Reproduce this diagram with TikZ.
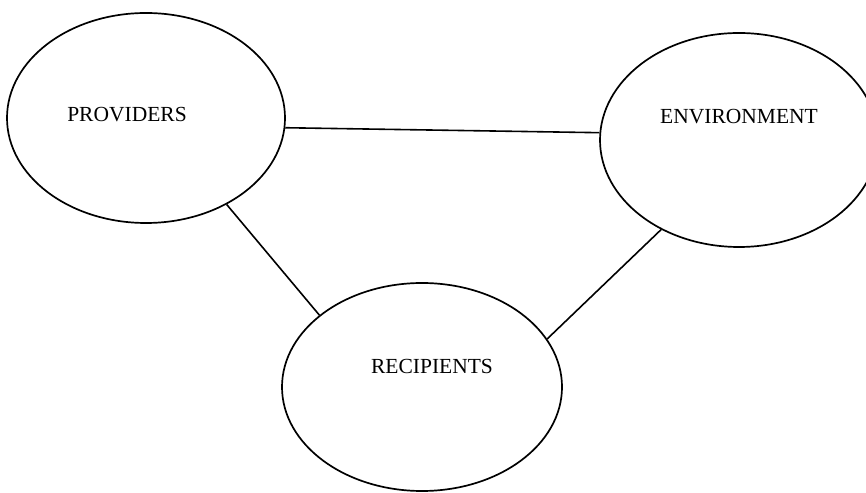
\documentclass[tikz,border=0pt]{standalone}
\usepackage{fontspec}
\setmainfont{Liberation Serif}
\usetikzlibrary{shapes.geometric}
\tikzset{
  oval/.style={draw, ellipse, line width=1.7pt, inner sep=0pt},
  lbl/.style={font=\fontsize{21.5}{26}\selectfont, inner sep=0pt},
  link/.style={line width=1.6pt}
}
\begin{document}
\begin{tikzpicture}[x=1pt,y=1pt]
\useasboundingbox (0,0) rectangle (866,492);
\clip (0,0) rectangle (866,492);
\node[oval, minimum width=278pt, minimum height=210pt] (p) at (146,374) {};
\node[oval, minimum width=278pt, minimum height=214pt] (e) at (739,352) {};
\node[oval, minimum width=280pt, minimum height=208pt] (r) at (422,105) {};
\node[lbl] (pt) at (127,377) {PROVIDERS};
\node[lbl] (et) at (739,375) {ENVIRONMENT};
\node[lbl] (rt) at (432,126) {RECIPIENTS};
\draw[link] (p.-4.9) -- (e.177);
\draw[link] (p.-47.7) -- (r.145.4);
\draw[link] (e.-131.9) -- (r.21.2);
\end{tikzpicture}
\end{document}
